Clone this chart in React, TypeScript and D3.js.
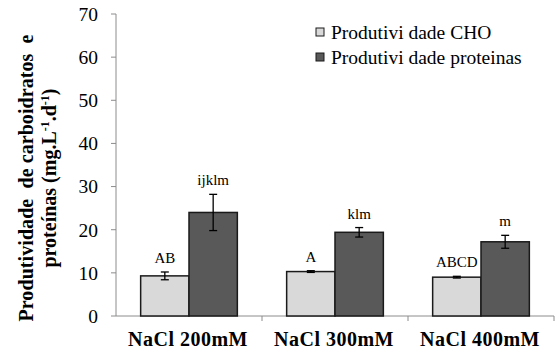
import React from "react";
import * as d3 from "d3";

const categories = ["NaCl 200mM", "NaCl 300mM", "NaCl 400mM"];
const series = ["Produtividade CHO", "Produtividade proteinas"];
const choValues = [9.3, 10.3, 9.0];
const choErrors = [0.9, 0.2, 0.2];
const protValues = [24.0, 19.4, 17.2];
const protErrors = [4.2, 1.1, 1.5];
const choLabels = ["AB", "A", "ABCD"];
const protLabels = ["ijklm", "klm", "m"];
const yTicks = [0, 10, 20, 30, 40, 50, 60, 70];

const colors = ["#d9d9d9", "#595959"];
const serif = "Liberation Serif, Times New Roman, serif";

export default function App() {
  const W = 555, H = 354;
  const x0 = 116, x1 = 554;
  const y = d3.scaleLinear().domain([0, 70]).range([316, 14]);
  const xb = d3.scaleBand().domain(categories).range([x0, x1]).paddingInner(0).paddingOuter(0);
  const inner = d3.scaleBand().domain(series).range([0, xb.bandwidth()]).paddingInner(0).paddingOuter(0.51);

  const data = [
    { vals: choValues, errs: choErrors, labs: choLabels },
    { vals: protValues, errs: protErrors, labs: protLabels },
  ];

  return (
    <svg width={W} height={H} style={{ position: "absolute", left: 0, top: 0, background: "#fff", fontFamily: serif }}>
      {/* y axis */}
      <line x1={x0} x2={x0} y1={y(70)} y2={y(0)} stroke="#8c8c8c" strokeWidth={1} />
      {yTicks.map((t) => (
        <g key={t}>
          <line x1={x0 - 5} x2={x0} y1={y(t)} y2={y(t)} stroke="#8c8c8c" />
          <text x={98} y={y(t)} dy="0.35em" textAnchor="end" fontSize={19.5} fill="#000">
            {t}
          </text>
        </g>
      ))}
      {/* x axis */}
      <line x1={x0} x2={x1} y1={y(0)} y2={y(0)} stroke="#8c8c8c" strokeWidth={1} />
      {categories.map((c) => (
        <g key={c}>
          <line x1={xb(c)! + xb.bandwidth()} x2={xb(c)! + xb.bandwidth()} y1={y(0)} y2={y(0) + 5} stroke="#8c8c8c" />
          <text x={xb(c)! + xb.bandwidth() / 2 - 1} y={346} textAnchor="middle" fontWeight="bold" fontSize={20} letterSpacing={0.5}>
            {c}
          </text>
        </g>
      ))}
      {/* bars */}
      {categories.map((c, i) =>
        series.map((s, j) => {
          const d = data[j];
          const bx = xb(c)! + inner(s)!;
          const bw = inner.bandwidth();
          const v = d.vals[i];
          const e = d.errs[i];
          const cx = bx + bw / 2;
          return (
            <g key={c + s}>
              <rect x={bx} y={y(v)} width={bw} height={y(0) - y(v)} fill={colors[j]} stroke="#1a1a1a" strokeWidth={1.5} />
              <line x1={cx} x2={cx} y1={y(v + e)} y2={y(v - e)} stroke="#000" strokeWidth={1.3} />
              <line x1={cx - 4} x2={cx + 4} y1={y(v + e)} y2={y(v + e)} stroke="#000" strokeWidth={1.3} />
              <line x1={cx - 4} x2={cx + 4} y1={y(v - e)} y2={y(v - e)} stroke="#000" strokeWidth={1.3} />
              <text x={cx} y={y(v + e) - 9} textAnchor="middle" fontSize={15}>
                {d.labs[i]}
              </text>
            </g>
          );
        })
      )}
      {/* legend */}
      {series.map((s, j) => (
        <g key={s}>
          <rect x={316} y={28 + j * 25} width={8} height={8} fill={colors[j]} stroke="#1a1a1a" strokeWidth={1} />
          <text x={331} y={32 + j * 25} dy="0.35em" fontSize={19.5}>
            {s.replace("Produtividade", "Produtivi dade")}
          </text>
        </g>
      ))}
      {/* y title */}
      <text transform="translate(33,178) rotate(-90)" textAnchor="middle" fontWeight="bold" fontSize={20} textLength={287} lengthAdjust="spacing">
        {"Produtividade\u00a0 de carboidratos\u00a0 e"}
      </text>
      <text transform="translate(56,178) rotate(-90)" textAnchor="middle" fontWeight="bold" fontSize={20}>
        proteínas (mg.L
        <tspan fontSize={12} dy={-7}>-1</tspan>
        <tspan dy={7}>.d</tspan>
        <tspan fontSize={12} dy={-7}>-1</tspan>
        <tspan dy={7}>)</tspan>
      </text>
    </svg>
  );
}
